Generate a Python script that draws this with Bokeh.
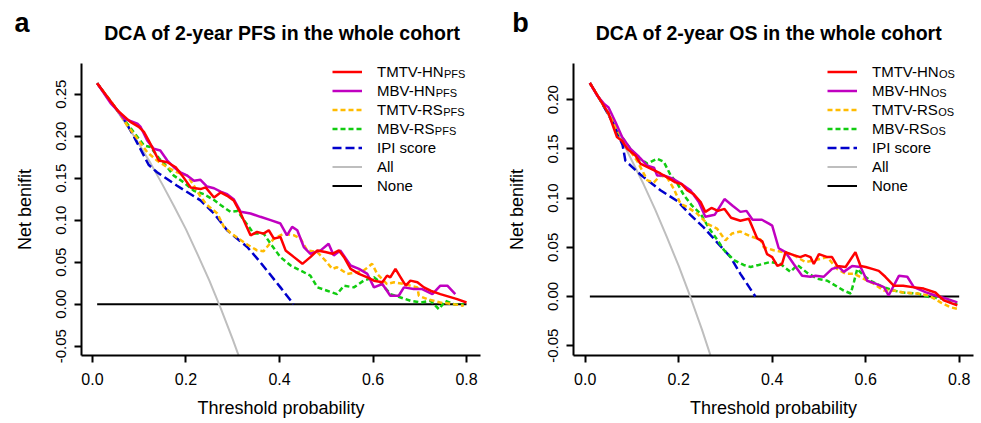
from bokeh.plotting import figure
from bokeh.layouts import row, column
from bokeh.models import Range1d, FixedTicker, PrintfTickFormatter, Legend, LegendItem, Label
from bokeh.embed import file_html
from bokeh.resources import INLINE

FONT = "Liberation Sans"

# ---------------- Panel a: 2-year PFS ----------------
pfs_tmtv_hn_x = [0.01, 0.03, 0.053, 0.081, 0.099, 0.11, 0.12, 0.142, 0.16, 0.178, 0.192, 0.21, 0.231, 0.242, 0.26,
                 0.274, 0.288, 0.302, 0.317, 0.338, 0.352, 0.366, 0.377, 0.388, 0.402, 0.413, 0.431, 0.449,
                 0.466, 0.481, 0.498, 0.513, 0.527, 0.538, 0.552, 0.57, 0.588, 0.602, 0.62, 0.63, 0.637,
                 0.648, 0.659, 0.67, 0.68, 0.695, 0.709, 0.723, 0.744, 0.78, 0.80]
pfs_tmtv_hn_y = [0.263, 0.248, 0.231, 0.217, 0.211, 0.205, 0.195, 0.171, 0.169, 0.163, 0.153, 0.139, 0.137, 0.139,
                 0.127, 0.133, 0.129, 0.1235, 0.108, 0.082, 0.086, 0.084, 0.088, 0.078, 0.080, 0.064, 0.056,
                 0.048, 0.056, 0.064, 0.062, 0.060, 0.064, 0.056, 0.042, 0.036, 0.032, 0.028, 0.026, 0.034,
                 0.032, 0.042, 0.032, 0.022, 0.028, 0.026, 0.020, 0.016, 0.012, 0.006, 0.002]

pfs_mbv_hn_x = [0.01, 0.039, 0.053, 0.067, 0.096, 0.103, 0.117, 0.131, 0.145, 0.16, 0.174, 0.188, 0.203, 0.217,
                0.231, 0.245, 0.26, 0.274, 0.288, 0.302, 0.317, 0.338, 0.359, 0.381, 0.402, 0.416, 0.427,
                0.438, 0.452, 0.466, 0.488, 0.505, 0.516, 0.53, 0.552, 0.57, 0.588, 0.602, 0.62, 0.637,
                0.655, 0.666, 0.687, 0.705, 0.727, 0.744, 0.759, 0.776]
pfs_mbv_hn_y = [0.263, 0.239, 0.231, 0.221, 0.215, 0.211, 0.195, 0.185, 0.183, 0.171, 0.163, 0.157, 0.153, 0.147,
                0.148, 0.140, 0.138, 0.134, 0.131, 0.125, 0.110, 0.108, 0.104, 0.100, 0.096, 0.082, 0.092,
                0.088, 0.068, 0.060, 0.064, 0.072, 0.058, 0.064, 0.046, 0.042, 0.036, 0.020, 0.024, 0.010,
                0.010, 0.020, 0.018, 0.018, 0.012, 0.022, 0.022, 0.012]

pfs_tmtv_rs_x = [0.01, 0.053, 0.074, 0.096, 0.117, 0.138, 0.16, 0.181, 0.203, 0.217, 0.231, 0.245, 0.267, 0.281,
                 0.295, 0.31, 0.331, 0.352, 0.366, 0.388, 0.409, 0.431, 0.445, 0.459, 0.481, 0.498, 0.513,
                 0.523, 0.545, 0.566, 0.58, 0.598, 0.609, 0.63, 0.645, 0.666, 0.695, 0.698, 0.716, 0.744,
                 0.773, 0.794]
pfs_tmtv_rs_y = [0.263, 0.231, 0.213, 0.197, 0.181, 0.171, 0.163, 0.157, 0.153, 0.141, 0.128, 0.118, 0.108, 0.092,
                 0.085, 0.079, 0.071, 0.064, 0.063, 0.078, 0.084, 0.082, 0.078, 0.064, 0.062, 0.052, 0.042,
                 0.044, 0.036, 0.038, 0.040, 0.048, 0.036, 0.024, 0.026, 0.024, 0.020, 0.010, 0.006, 0.002,
                 0.000, -0.002]

pfs_mbv_rs_x = [0.01, 0.053, 0.074, 0.088, 0.11, 0.124, 0.142, 0.16, 0.174, 0.195, 0.217, 0.238, 0.26, 0.274,
                0.295, 0.31, 0.324, 0.345, 0.366, 0.381, 0.402, 0.424, 0.445, 0.466, 0.481, 0.502, 0.523,
                0.538, 0.559, 0.58, 0.602, 0.616, 0.637, 0.659, 0.68, 0.702, 0.723, 0.741, 0.755, 0.773, 0.794]
pfs_mbv_rs_y = [0.263, 0.231, 0.215, 0.205, 0.189, 0.187, 0.174, 0.163, 0.153, 0.145, 0.135, 0.131, 0.124, 0.118,
                0.110, 0.111, 0.100, 0.084, 0.084, 0.072, 0.056, 0.046, 0.040, 0.034, 0.020, 0.016, 0.012,
                0.022, 0.020, 0.028, 0.032, 0.026, 0.012, 0.008, 0.004, 0.002, 0.004, -0.006, 0.004, 0.000, 0.000]

pfs_ipi_x = [0.01, 0.04, 0.067, 0.09, 0.12, 0.138, 0.181, 0.231, 0.26, 0.288, 0.331, 0.356, 0.402, 0.43]
pfs_ipi_y = [0.263, 0.240, 0.221, 0.198, 0.166, 0.157, 0.141, 0.1235, 0.108, 0.088, 0.068, 0.052, 0.020, 0.000]

pfs_all_x = [0.01, 0.025, 0.05, 0.075, 0.10, 0.125, 0.15, 0.175, 0.20, 0.225, 0.25, 0.275, 0.30, 0.325]
pfs_all_y = [0.263, 0.252, 0.232, 0.212, 0.190, 0.167, 0.142, 0.116, 0.089, 0.059, 0.028, -0.006, -0.042, -0.080]

pfs_none_x = [0.01, 0.80]
pfs_none_y = [0.0, 0.0]

# ---------------- Panel b: 2-year OS ----------------
os_tmtv_hn_x = [0.01, 0.033, 0.05, 0.068, 0.079, 0.09, 0.108, 0.118, 0.14, 0.161, 0.179, 0.193, 0.207, 0.218,
                0.232, 0.247, 0.257, 0.27, 0.284, 0.298, 0.312, 0.332, 0.35, 0.368, 0.379, 0.389, 0.40, 0.411,
                0.421, 0.4285, 0.446, 0.46, 0.471, 0.482, 0.489, 0.50, 0.518, 0.528, 0.539, 0.557, 0.578,
                0.589, 0.60, 0.614, 0.628, 0.642, 0.66, 0.68, 0.70, 0.724, 0.749, 0.767, 0.796]
os_tmtv_hn_y = [0.217, 0.199, 0.186, 0.162, 0.158, 0.150, 0.143, 0.135, 0.130, 0.125, 0.120, 0.116, 0.114, 0.108,
                0.104, 0.096, 0.086, 0.090, 0.087, 0.089, 0.080, 0.077, 0.079, 0.059, 0.056, 0.043, 0.040,
                0.031, 0.033, 0.045, 0.042, 0.040, 0.042, 0.040, 0.033, 0.043, 0.040, 0.040, 0.031, 0.030,
                0.045, 0.031, 0.030, 0.028, 0.026, 0.020, 0.011, 0.011, 0.0095, 0.008, 0.004, -0.004, -0.009]

os_mbv_hn_x = [0.01, 0.026, 0.04, 0.05, 0.065, 0.079, 0.097, 0.115, 0.133, 0.147, 0.154, 0.168, 0.186, 0.204,
               0.225, 0.243, 0.257, 0.277, 0.298, 0.316, 0.332, 0.345, 0.358, 0.378, 0.393, 0.40, 0.414,
               0.4285, 0.446, 0.464, 0.482, 0.493, 0.51, 0.528, 0.5425, 0.553, 0.571, 0.589, 0.603, 0.621,
               0.639, 0.649, 0.671, 0.689, 0.703, 0.728, 0.749, 0.771, 0.796]
os_mbv_hn_y = [0.217, 0.204, 0.196, 0.192, 0.177, 0.162, 0.150, 0.142, 0.133, 0.131, 0.123, 0.123, 0.120, 0.115,
               0.108, 0.096, 0.081, 0.083, 0.099, 0.092, 0.086, 0.087, 0.078, 0.078, 0.074, 0.072, 0.049,
               0.045, 0.033, 0.021, 0.020, 0.021, 0.020, 0.028, 0.030, 0.025, 0.031, 0.030, 0.016, 0.013,
               0.0095, 0.001, 0.021, 0.020, 0.0095, 0.0044, 0.001, -0.002, -0.006]

os_tmtv_rs_x = [0.01, 0.05, 0.068, 0.09, 0.111, 0.133, 0.147, 0.161, 0.175, 0.19, 0.204, 0.218, 0.24, 0.261,
                0.282, 0.30, 0.314, 0.332, 0.354, 0.375, 0.382, 0.403, 0.425, 0.446, 0.471, 0.493, 0.518,
                0.539, 0.557, 0.575, 0.596, 0.617, 0.639, 0.66, 0.68, 0.71, 0.735, 0.76, 0.781, 0.796]
os_tmtv_rs_y = [0.217, 0.186, 0.170, 0.152, 0.138, 0.118, 0.116, 0.123, 0.121, 0.109, 0.094, 0.091, 0.084, 0.074,
                0.069, 0.057, 0.064, 0.066, 0.061, 0.058, 0.050, 0.047, 0.045, 0.042, 0.035, 0.037, 0.040,
                0.028, 0.023, 0.023, 0.018, 0.013, 0.006, 0.006, 0.004, 0.003, 0.001, -0.006, -0.011, -0.0125]

os_mbv_rs_x = [0.01, 0.05, 0.068, 0.097, 0.111, 0.133, 0.154, 0.168, 0.183, 0.197, 0.211, 0.229, 0.247, 0.264,
               0.282, 0.297, 0.318, 0.339, 0.354, 0.371, 0.396, 0.418, 0.439, 0.454, 0.475, 0.496, 0.518,
               0.539, 0.553, 0.568, 0.575, 0.582, 0.596, 0.614, 0.635, 0.66, 0.68, 0.71, 0.739, 0.764,
               0.781, 0.796]
os_mbv_rs_y = [0.217, 0.186, 0.169, 0.150, 0.142, 0.135, 0.140, 0.137, 0.123, 0.115, 0.103, 0.092, 0.084, 0.070,
               0.058, 0.047, 0.037, 0.032, 0.030, 0.032, 0.035, 0.033, 0.025, 0.032, 0.024, 0.018, 0.016,
               0.010, 0.006, 0.003, 0.015, 0.028, 0.021, 0.015, 0.010, 0.006, 0.004, 0.003, -0.001, -0.002,
               -0.006, -0.0075]

os_ipi_x = [0.01, 0.033, 0.06, 0.08, 0.086, 0.118, 0.161, 0.197, 0.225, 0.254, 0.282, 0.311, 0.332, 0.364]
os_ipi_y = [0.217, 0.199, 0.176, 0.154, 0.138, 0.124, 0.108, 0.097, 0.083, 0.070, 0.055, 0.040, 0.023, 0.000]

os_all_x = [0.01, 0.025, 0.05, 0.075, 0.10, 0.125, 0.15, 0.175, 0.20, 0.225, 0.25, 0.275]
os_all_y = [0.217, 0.205, 0.184, 0.162, 0.138, 0.114, 0.088, 0.060, 0.031, -0.0005, -0.034, -0.070]

os_none_x = [0.01, 0.80]
os_none_y = [0.0, 0.0]

x_ticks = [0.0, 0.2, 0.4, 0.6, 0.8]
pfs_y_ticks = [-0.05, 0.0, 0.05, 0.10, 0.15, 0.20, 0.25]
os_y_ticks = [-0.05, 0.0, 0.05, 0.10, 0.15, 0.20]

legend_names = ["TMTV-HN", "MBV-HN", "TMTV-RS", "MBV-RS", "IPI score", "All", "None"]

# ---------------- styling ----------------
STYLES = [  # (color, dash, width) in legend order
    ("#FF0000", "solid", 2.5),
    ("#C000C0", "solid", 2.5),
    ("#FFBB00", "5 3", 2.5),
    ("#11CC11", "5 3", 2.5),
    ("#0000CC", "9 4", 2.5),
    ("#BEBEBE", "solid", 2.0),
    ("#000000", "solid", 2.0),
]
ARIAL_W = {'T': .611, 'M': .833, 'V': .667, '-': .333, 'H': .722, 'N': .722,
           'B': .667, 'R': .722, 'S': .667}

HEAD_H = 63
FRAME_H = 292
PLOT_H = 360
LEG_Y = 160.5


def make_header(title, letter, width, title_x, letter_x):
    h = figure(width=width, height=HEAD_H, output_backend="svg", toolbar_location=None,
               x_axis_location=None, y_axis_location=None,
               min_border_left=0, min_border_right=0, min_border_top=0, min_border_bottom=0)
    h.xgrid.visible = False
    h.ygrid.visible = False
    h.outline_line_color = None
    h.background_fill_color = "white"
    h.border_fill_color = "white"
    h.add_layout(Label(x=letter_x, y=41, x_units="screen", y_units="screen", text=letter,
                       text_font=FONT, text_font_size="27px", text_font_style="bold",
                       text_color="black", text_align="center", text_baseline="alphabetic"))
    h.add_layout(Label(x=title_x, y=31, x_units="screen", y_units="screen", text=title,
                       text_font=FONT, text_font_size="19.5px", text_font_style="bold",
                       text_color="black", text_align="center", text_baseline="alphabetic"))
    return h


def make_panel(sub, series, xr, yr, yticks, width, bl, br, leg_x):
    p = figure(width=width, height=PLOT_H, x_range=Range1d(*xr), y_range=Range1d(*yr),
               output_backend="svg", toolbar_location=None,
               min_border_left=bl, min_border_right=br, min_border_top=0,
               min_border_bottom=PLOT_H - FRAME_H)
    p.xgrid.visible = False
    p.ygrid.visible = False
    p.outline_line_color = None
    p.background_fill_color = "white"
    p.border_fill_color = "white"

    renderers = [None] * len(series)
    for idx in reversed(range(len(series))):
        xs, ys = series[idx]
        color, dash, lw = STYLES[idx]
        renderers[idx] = p.line(xs, ys, line_color=color, line_dash=dash, line_width=lw)

    for ax in (p.xaxis[0], p.yaxis[0]):
        ax.axis_line_width = 2
        ax.axis_line_color = "black"
        ax.major_tick_line_width = 2
        ax.major_tick_line_color = "black"
        ax.major_tick_in = 0
        ax.major_tick_out = 7
        ax.minor_tick_line_color = None
        ax.axis_label_text_font = FONT
        ax.axis_label_text_font_style = "normal"
        ax.axis_label_text_font_size = "18px"
        ax.axis_label_text_color = "black"
        ax.major_label_text_font = FONT
        ax.major_label_text_color = "black"

    p.xaxis.ticker = FixedTicker(ticks=x_ticks)
    p.xaxis.formatter = PrintfTickFormatter(format="%.1f")
    p.xaxis.major_label_text_font_size = "16px"
    p.xaxis.major_label_standoff = 10
    p.xaxis.axis_label = "Threshold probability"
    p.xaxis.axis_label_standoff = 10

    p.yaxis.ticker = FixedTicker(ticks=yticks)
    p.yaxis.formatter = PrintfTickFormatter(format="%.2f")
    p.yaxis.major_label_orientation = "vertical"
    p.yaxis.major_label_text_font_size = "15px"
    p.yaxis.major_label_standoff = 8
    p.yaxis.axis_label = "Net benifit"
    p.yaxis.axis_label_standoff = 19

    items = [LegendItem(label=name, renderers=[renderers[i]]) for i, name in enumerate(legend_names)]
    leg = Legend(items=items, location=(leg_x, LEG_Y), orientation="vertical", padding=0, margin=0,
                 spacing=0, glyph_width=30, glyph_height=19, label_height=19, label_standoff=15,
                 label_text_font=FONT, label_text_font_size="15px", label_text_color="black",
                 border_line_color=None, background_fill_alpha=0)
    p.add_layout(leg)

    legend_top = LEG_Y + 19 * len(legend_names)
    for i, name in enumerate(legend_names[:4]):
        wpx = sum(ARIAL_W[c] for c in name) * 15
        cy = legend_top - 19 * i - 9.5
        p.add_layout(Label(x=leg_x + 45 + wpx - 1.0, y=cy - 2, x_units="screen", y_units="screen",
                           text=sub, text_font=FONT, text_font_size="11px", text_color="black",
                           text_align="left", text_baseline="alphabetic"))
    return p


pfs_series = [(pfs_tmtv_hn_x, pfs_tmtv_hn_y), (pfs_mbv_hn_x, pfs_mbv_hn_y), (pfs_tmtv_rs_x, pfs_tmtv_rs_y),
              (pfs_mbv_rs_x, pfs_mbv_rs_y), (pfs_ipi_x, pfs_ipi_y), (pfs_all_x, pfs_all_y),
              (pfs_none_x, pfs_none_y)]
os_series = [(os_tmtv_hn_x, os_tmtv_hn_y), (os_mbv_hn_x, os_mbv_hn_y), (os_tmtv_rs_x, os_tmtv_rs_y),
             (os_mbv_rs_x, os_mbv_rs_y), (os_ipi_x, os_ipi_y), (os_all_x, os_all_y),
             (os_none_x, os_none_y)]

h1 = make_header("DCA of 2-year PFS in the whole cohort", "a", 490, 282, 21.5)
h2 = make_header("DCA of 2-year OS in the whole cohort", "b", 491, 278.5, 30)
p1 = make_panel("PFS", pfs_series, (-0.0235, 0.8299), (-0.0611, 0.2865), pfs_y_ticks, 490, 81, 10, 251)
p2 = make_panel("OS", os_series, (-0.025, 0.8306), (-0.060, 0.2368), os_y_ticks, 491, 83, 8, 254)

layout = column(row(h1, h2), row(p1, p2))
open("out.html", "w").write(file_html(layout, INLINE))
